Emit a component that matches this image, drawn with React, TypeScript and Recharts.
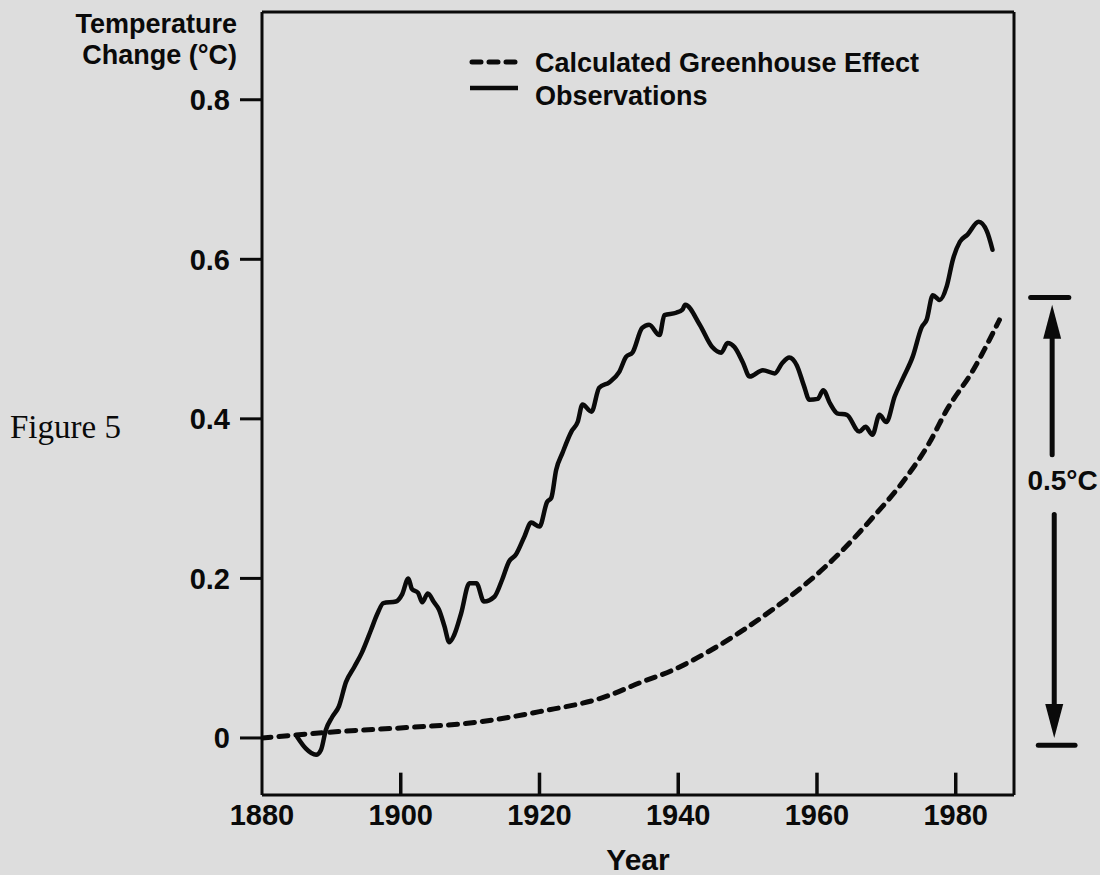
import React from "react";
import { LineChart, Line, XAxis, YAxis, ReferenceLine, ReferenceDot } from "recharts";

// observations (solid line)
const obsYears = [
  1885.1, 1886.3, 1887.8, 1888.5, 1889.2, 1890.1, 1891.1, 1892.1, 1893.3, 1894.4,
  1895.7, 1896.6, 1897.5, 1899.3, 1900.2, 1901.1, 1901.6, 1902.5, 1903.1, 1903.9,
  1904.8, 1905.5, 1906.3, 1907.0, 1907.7, 1908.7, 1909.9, 1910.9, 1912.0, 1913.5,
  1914.6, 1915.6, 1916.6, 1917.8, 1918.8, 1920.0, 1921.1, 1921.7, 1922.4, 1923.3,
  1924.6, 1925.5, 1926.2, 1927.5, 1928.6, 1930.1, 1931.5, 1932.5, 1933.4, 1934.8,
  1935.8, 1937.3, 1938.0, 1939.7, 1940.6, 1941.0, 1943.1, 1944.9, 1946.2, 1947.1,
  1948.1, 1949.3, 1950.3, 1952.2, 1953.9, 1955.0, 1956.0, 1957.1, 1958.1, 1958.9,
  1960.1, 1960.9, 1961.9, 1962.9, 1964.3, 1966.1, 1967.0, 1968.0, 1969.0, 1970.0,
  1971.2, 1972.4, 1973.8, 1975.1, 1975.8, 1976.7, 1977.7, 1978.7, 1979.6, 1980.6,
  1981.7, 1983.3, 1984.5, 1985.3,
];
const obsTemps = [
  0.001, -0.013, -0.021, -0.015, 0.01, 0.026, 0.04, 0.07, 0.089, 0.107,
  0.135, 0.155, 0.169, 0.171, 0.18, 0.2, 0.187, 0.182, 0.17, 0.181,
  0.17, 0.161, 0.14, 0.12, 0.129, 0.156, 0.194, 0.194, 0.171, 0.177,
  0.198, 0.221, 0.23, 0.252, 0.27, 0.265, 0.296, 0.301, 0.336, 0.357,
  0.384, 0.396, 0.418, 0.409, 0.439, 0.446, 0.459, 0.478, 0.483, 0.514,
  0.518, 0.505, 0.53, 0.533, 0.537, 0.543, 0.518, 0.49, 0.483, 0.495,
  0.49, 0.471, 0.453, 0.461, 0.457, 0.47, 0.477, 0.467, 0.442, 0.424,
  0.425, 0.436, 0.419, 0.407, 0.405, 0.384, 0.39, 0.38, 0.405, 0.396,
  0.428, 0.451, 0.478, 0.515, 0.524, 0.555, 0.549, 0.566, 0.6, 0.622,
  0.631, 0.647, 0.635, 0.612,
];

// calculated greenhouse effect (dashed line)
const ghYears = [
  1880, 1891, 1900.8, 1910.3, 1920, 1929.6, 1934.4, 1939.2, 1944.1, 1948.8,
  1953.6, 1958.5, 1963.3, 1968, 1972.9, 1976.2, 1978.7, 1982.5, 1986.3,
];
const ghTemps = [
  0, 0.008, 0.013, 0.019, 0.033, 0.052, 0.069, 0.085, 0.107, 0.132,
  0.161, 0.194, 0.232, 0.276, 0.327, 0.37, 0.411, 0.461, 0.524,
];

const xTickLabels = [1880, 1900, 1920, 1940, 1960, 1980];
const xInnerTicks = [1900, 1920, 1940, 1960, 1980];
const yTicks = [0, 0.2, 0.4, 0.6, 0.8];

// the "0.5°C" bracket at the right of the plot
const bracketTop = 0.552;
const bracketBottom = -0.009;
const bracketArrowUp = [0.355, 0.543];
const bracketArrowDown = [0.28, 0.0];
const bracketLabelY = 0.323;

const X_DOMAIN = [1880, 1988.4];
const Y_DOMAIN = [-0.0715, 0.91];
const INNER_TICK = 0.028;

const BG = "#dddddd";
const INK = "#0a0a0a";
const SANS = '"Liberation Sans", Arial, Helvetica, sans-serif';
const SERIF = '"Liberation Serif", "Times New Roman", serif';

const obsData = obsYears.map((year, i) => ({ year, temp: obsTemps[i] }));
const ghData = ghYears.map((year, i) => ({ year, temp: ghTemps[i] }));

const tickFont = { fill: INK, fontSize: 29, fontWeight: 700, fontFamily: SANS };

function ArrowShape(props: any) {
  const { x1, y1, x2, y2 } = props;
  const dir = y2 < y1 ? -1 : 1;
  const headLen = 34;
  const half = 9;
  const baseY = y2 - dir * headLen;
  return (
    <g>
      <line x1={x1} y1={y1} x2={x2} y2={baseY} stroke={INK} strokeWidth={5} strokeLinecap="round" />
      <polygon
        points={`${x2},${y2} ${x2 - half},${baseY} ${x2 + half},${baseY}`}
        fill={INK}
      />
    </g>
  );
}

function BarShape(props: any) {
  const { x1, y1, x2, y2 } = props;
  return <line x1={x1} y1={y1} x2={x2} y2={y2} stroke={INK} strokeWidth={5} strokeLinecap="round" />;
}

function BracketLabel(props: any) {
  return (
    <text
      x={props.cx}
      y={props.cy}
      dy={10}
      textAnchor="middle"
      fill={INK}
      fontSize={28}
      fontWeight={700}
      fontFamily={SANS}
    >
      0.5°C
    </text>
  );
}

export default function App() {
  return (
    <div style={{ position: "absolute", left: 0, top: 0, width: 1100, height: 875, background: BG, overflow: "hidden" }}>
      <LineChart width={1100} height={875} margin={{ top: 12, right: 86, bottom: 0, left: 0 }}>
        <XAxis
          dataKey="year"
          type="number"
          domain={X_DOMAIN}
          allowDataOverflow
          ticks={xTickLabels}
          interval={0}
          height={80}
          tickLine={false}
          tickSize={5}
          tickMargin={4}
          axisLine={{ stroke: INK, strokeWidth: 3 }}
          tick={tickFont}
          label={{ value: "Year", position: "insideBottom", offset: 5, fill: INK, fontSize: 30, fontWeight: 700, fontFamily: SANS }}
        />
        <YAxis
          type="number"
          domain={Y_DOMAIN}
          allowDataOverflow
          ticks={yTicks}
          interval={0}
          width={262}
          tickSize={22}
          tickMargin={10}
          tickLine={{ stroke: INK, strokeWidth: 3 }}
          axisLine={{ stroke: INK, strokeWidth: 3 }}
          tick={tickFont}
        />

        {/* top and right edges of the plot box */}
        <ReferenceLine y={Y_DOMAIN[1]} stroke={INK} strokeWidth={3} ifOverflow="visible" />
        <ReferenceLine x={X_DOMAIN[1]} stroke={INK} strokeWidth={3} ifOverflow="visible" />

        {xInnerTicks.map((yr) => (
          <ReferenceLine
            key={yr}
            segment={[{ x: yr, y: Y_DOMAIN[0] }, { x: yr, y: Y_DOMAIN[0] + INNER_TICK }]}
            stroke={INK}
            strokeWidth={3.5}
            ifOverflow="visible"
          />
        ))}

        <Line
          data={ghData}
          dataKey="temp"
          type="monotone"
          stroke={INK}
          strokeWidth={5}
          strokeDasharray="9 8"
          strokeLinecap="round"
          dot={false}
          isAnimationActive={false}
        />
        <Line
          data={obsData}
          dataKey="temp"
          type="monotone"
          stroke={INK}
          strokeWidth={4.5}
          strokeLinejoin="round"
          strokeLinecap="round"
          dot={false}
          isAnimationActive={false}
        />

        <ReferenceLine
          segment={[{ x: 1990.8, y: bracketTop }, { x: 1996.3, y: bracketTop }]}
          ifOverflow="visible"
          shape={BarShape}
        />
        <ReferenceLine
          segment={[{ x: 1991.9, y: bracketBottom }, { x: 1997.2, y: bracketBottom }]}
          ifOverflow="visible"
          shape={BarShape}
        />
        <ReferenceLine
          segment={[{ x: 1993.9, y: bracketArrowUp[0] }, { x: 1993.9, y: bracketArrowUp[1] }]}
          ifOverflow="visible"
          shape={ArrowShape}
        />
        <ReferenceLine
          segment={[{ x: 1994.2, y: bracketArrowDown[0] }, { x: 1994.2, y: bracketArrowDown[1] }]}
          ifOverflow="visible"
          shape={ArrowShape}
        />
        <ReferenceDot x={1995.4} y={bracketLabelY} r={0} ifOverflow="visible" shape={BracketLabel} />
      </LineChart>

      <svg width={1100} height={875} style={{ position: "absolute", left: 0, top: 0, pointerEvents: "none" }}>
        <g fill={INK} fontFamily={SANS} fontWeight={700}>
          <text x={237} y={33} fontSize={27} textAnchor="end">Temperature</text>
          <text x={237} y={64} fontSize={27} textAnchor="end">Change (°C)</text>
        </g>
        <text x={10} y={438} fontSize={33} fontFamily={SERIF} fill={INK}>Figure 5</text>

        <line x1={472} y1={62} x2={520} y2={62} stroke={INK} strokeWidth={5} strokeDasharray="9 8" strokeLinecap="round" />
        <line x1={470} y1={88} x2={518} y2={88} stroke={INK} strokeWidth={4.5} />
        <g fill={INK} fontFamily={SANS} fontWeight={700} fontSize={27}>
          <text x={535} y={72}>Calculated Greenhouse Effect</text>
          <text x={535} y={105}>Observations</text>
        </g>
      </svg>
    </div>
  );
}
